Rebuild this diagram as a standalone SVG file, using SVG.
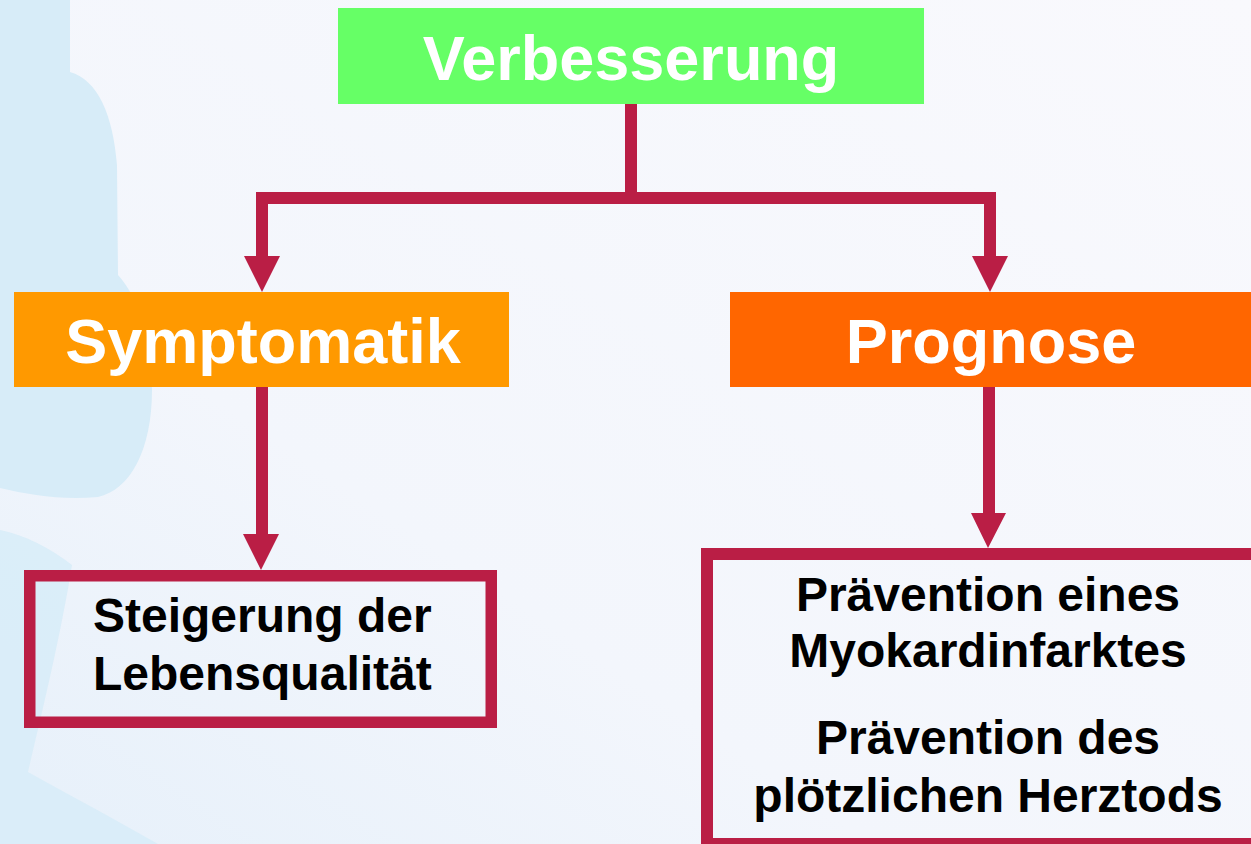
<svg xmlns="http://www.w3.org/2000/svg" width="1251" height="844" viewBox="0 0 1251 844">
  <defs>
    <linearGradient id="bg" x1="0" y1="1" x2="1" y2="0">
      <stop offset="0" stop-color="#E6F0FA"/>
      <stop offset="0.35" stop-color="#F3F6FC"/>
      <stop offset="1" stop-color="#F9F9FD"/>
    </linearGradient>
  </defs>
  <style>
    .conn { fill: #BA1E45; }
    .head { font-family: "Liberation Sans", Arial, sans-serif; font-weight: bold; fill: #FFFFFF; font-size: 63px; text-anchor: middle; }
    .body { font-family: "Liberation Sans", Arial, sans-serif; font-weight: bold; fill: #000000; font-size: 48px; }
    .frame { fill: none; stroke: #BA1E45; }
    .deco { fill: #D7ECF8; }
  </style>

  <!-- background -->
  <rect x="0" y="0" width="1251" height="844" fill="url(#bg)"/>
  <g id="background-figure">
    <path class="deco" d="M0,0 L70,0 L70,72 C98,80 113,115 117,165 L118,275 C140,300 152,340 152,390 C152,450 130,490 98,497 C60,500 30,495 0,488 Z"/>
    <path class="deco" d="M0,530 C25,535 50,548 72,565 C60,640 40,720 28,772 C75,798 120,822 158,844 L0,844 Z" opacity="0.85"/>
  </g>

  <!-- connectors -->
  <g id="connectors">
    <path class="conn" d="M625,104 H637 V192 H996 V256 H1008 L990,292 L972,256 H984 V204 H268 V256 H280 L262,292 L244,256 H256 V192 H625 Z"/>
    <path class="conn" d="M256,387 H268 V534 H279 L261,570 L243,534 H256 Z"/>
    <path class="conn" d="M983,387 H995 V513 H1006 L988,548 L971,513 H983 Z"/>
  </g>

  <!-- nodes -->
  <g id="node-verbesserung">
    <rect x="338" y="8" width="586" height="96" fill="#66FF66"/>
    <text class="head" x="631" y="80">Verbesserung</text>
  </g>
  <g id="node-symptomatik">
    <rect x="14" y="292" width="495" height="95" fill="#FF9900"/>
    <text class="head" x="263" y="363">Symptomatik</text>
  </g>
  <g id="node-prognose">
    <rect x="730" y="292" width="521" height="95" fill="#FF6600"/>
    <text class="head" x="991" y="363">Prognose</text>
  </g>
  <g id="node-lebensqualitaet">
    <rect class="frame" x="29.75" y="575.75" width="461.5" height="146.5" stroke-width="11.5"/>
    <text class="body" x="93" y="632">Steigerung der</text>
    <text class="body" x="93" y="690">Lebensqualität</text>
  </g>
  <g id="node-praevention">
    <rect class="frame" x="707" y="554" width="600" height="290" stroke-width="12"/>
    <text class="body" x="988" y="611" text-anchor="middle">Prävention eines</text>
    <text class="body" x="988" y="667" text-anchor="middle">Myokardinfarktes</text>
    <text class="body" x="988" y="754" text-anchor="middle">Prävention des</text>
    <text class="body" x="988" y="812" text-anchor="middle">plötzlichen Herztods</text>
  </g>
</svg>
